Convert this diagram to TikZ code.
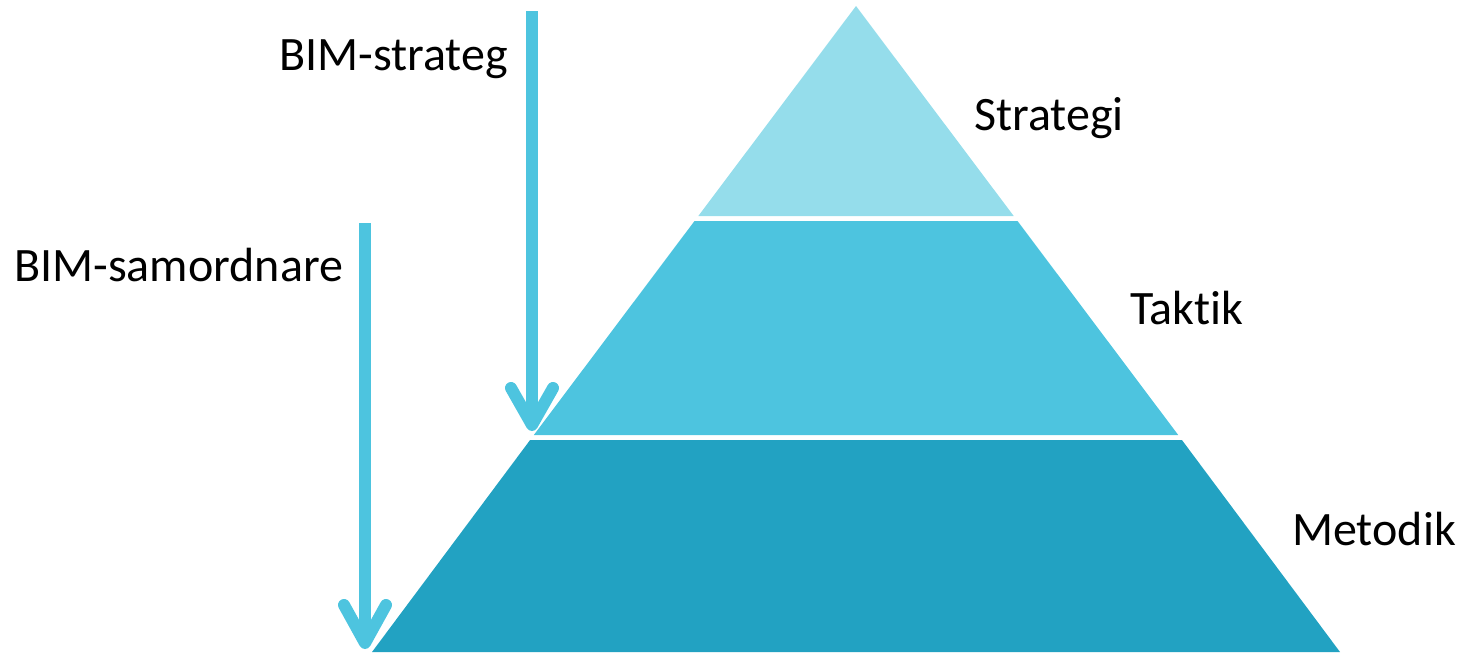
\documentclass[tikz,border=0pt]{standalone}
\usepackage{fontspec}
\setmainfont{Carlito}[Ligatures=NoCommon]
\definecolor{tierA}{HTML}{95DDEB}
\definecolor{tierB}{HTML}{4DC4DF}
\definecolor{tierC}{HTML}{22A2C2}
\definecolor{arrowc}{HTML}{4DC4DF}
\begin{document}
\begin{tikzpicture}[x=1pt,y=-1pt,
  lbl/.style={inner sep=0pt,font=\fontsize{48}{57}\selectfont,text=black},
  shaft/.style={draw=arrowc,line width=12pt,line cap=butt},
  chevron/.style={draw=arrowc,line width=12pt,line cap=round,line join=round}]
\useasboundingbox (0,0) rectangle (1474,653);
% pyramid: apex (856,6), base y=652 from 370 to 1340
\coordinate (apex) at (856,6);
\fill[tierA] (856,6) -- (1013.7,216) -- (698.3,216) -- cycle;
\fill[tierB] (694.5,221) -- (1017.5,221) -- (1178.2,435) -- (533.8,435) -- cycle;
\fill[tierC] (530.1,440) -- (1181.9,440) -- (1340,652) -- (372,652) -- cycle;
% arrows
\coordinate (s1top) at (532,11);
\coordinate (s1end) at (532,425);
\coordinate (c1l) at (511,388);
\coordinate (c1r) at (553,388);
\draw[shaft] (s1top) -- (s1end);
\draw[chevron] (c1l) -- (s1end) -- (c1r);
\coordinate (s2top) at (365,223);
\coordinate (s2end) at (365,643);
\coordinate (c2l) at (344,605);
\coordinate (c2r) at (386,605);
\draw[shaft] (s2top) -- (s2end);
\draw[chevron] (c2l) -- (s2end) -- (c2r);
% labels
\node[lbl,anchor=base west] (strateg) at (279,70) {BIM-strateg};
\node[lbl,anchor=base west] (samord) at (14,281) {BIM-samordnare};
\node[lbl,anchor=base west] (strategi) at (974,130) {Strategi};
\node[lbl,anchor=base west] (taktik) at (1130,324) {Taktik};
\node[lbl,anchor=base west] (metodik) at (1292,545) {Metodik};
\end{tikzpicture}
\end{document}
